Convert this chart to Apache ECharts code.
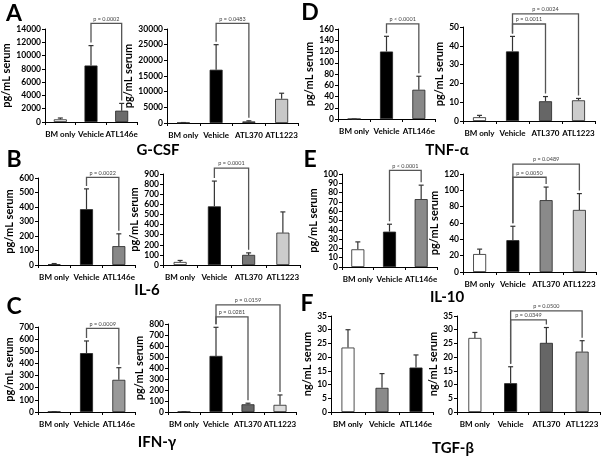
<!DOCTYPE html>
<html>
<head>
<meta charset="utf-8">
<script src="https://cdn.jsdelivr.net/npm/echarts@6/dist/echarts.min.js"></script>
<style>
html, body { margin: 0; padding: 0; background: #fff; }
#chart { width: 605px; height: 456px; }
</style>
</head>
<body>
<div id="chart"></div>
<script>
var cats3 = ['BM only', 'Vehicle', 'ATL146e'];
var cats4 = ['BM only', 'Vehicle', 'ATL370', 'ATL1223'];

// G-CSF (A)
var gcsfL = [400, 8500, 1700];
var gcsfLErr = [600, 11500, 2800];
var gcsfR = [100, 17000, 500, 7700];
var gcsfRErr = [150, 25000, 700, 9500];
// TNF-a (D)
var tnfL = [0, 120, 52];
var tnfLErr = [0, 147, 76];
var tnfR = [2, 37, 10.5, 11];
var tnfRErr = [3, 45, 13, 12];
// IL-6 (B)
var il6L = [5, 385, 130];
var il6LErr = [10, 525, 215];
var il6R = [30, 580, 100, 320];
var il6RErr = [45, 830, 120, 525];
// IL-10 (E)
var il10L = [19, 38, 73];
var il10LErr = [27, 46, 88];
var il10R = [22, 39, 88, 76];
var il10RErr = [28, 56, 104, 96];
// IFN-g (C)
var ifnL = [3, 485, 265];
var ifnLErr = [3, 585, 365];
var ifnR = [3, 510, 70, 65];
var ifnRErr = [3, 770, 80, 155];
// TGF-b (F)
var tgfL = [23.5, 8.8, 16.2];
var tgfLErr = [30, 14, 20.8];
var tgfR = [27, 10.5, 25.2, 22];
var tgfRErr = [29, 16.5, 30.8, 26];

// significance brackets: [from, to, height]
var gcsfLBr = [[1, 2, 14860]];  var gcsfLP = ['p = 0.0002'];
var gcsfRBr = [[1, 2, 31800]];  var gcsfRP = ['p = 0.0483'];
var tnfLBr = [[1, 2, 169]];     var tnfLP = ['p < 0.0001'];
var tnfRBr = [[1, 2, 51.6], [1, 3, 57]]; var tnfRP = ['p = 0.0011', 'p = 0.0024'];
var il6LBr = [[1, 2, 605]];     var il6LP = ['p = 0.0022'];
var il6RBr = [[1, 2, 959]];     var il6RP = ['p = 0.0001'];
var il10LBr = [[1, 2, 104]];    var il10LP = ['p < 0.0001'];
var il10RBr = [[1, 2, 116], [1, 3, 132]]; var il10RP = ['p = 0.0050', 'p = 0.0489'];
var ifnLBr = [[1, 2, 689]];     var ifnLP = ['p = 0.0009'];
var ifnRBr = [[1, 2, 864], [1, 3, 973]]; var ifnRP = ['p = 0.0281', 'p = 0.0159'];
var tgfLBr = [];                var tgfLP = [];
var tgfRBr = [[1, 2, 33.6], [1, 3, 36.9]]; var tgfRP = ['p = 0.0349', 'p = 0.0500'];

var panels = [
    { cats: cats3, vals: gcsfL, errs: gcsfLErr, br: gcsfLBr, p: gcsfLP, max: 14000, step: 2000, name: 'pg/mL serum',
      colors: ['#fff', '#000', '#6b6b6b'], rect: [45, 29, 92, 93], gap: 28 },
    { cats: cats4, vals: gcsfR, errs: gcsfRErr, br: gcsfRBr, p: gcsfRP, max: 30000, step: 5000, name: 'pg/mL serum',
      colors: ['#fff', '#000', '#555', '#c8c8c8'], rect: [167, 29, 131, 94], gap: 22 },
    { cats: cats3, vals: tnfL, errs: tnfLErr, br: tnfLBr, p: tnfLP, max: 160, step: 20, name: 'pg/mL serum',
      colors: ['#fff', '#000', '#888'], rect: [338, 29, 97, 90], gap: 19 },
    { cats: cats4, vals: tnfR, errs: tnfRErr, br: tnfRBr, p: tnfRP, max: 50, step: 10, name: 'pg/mL serum',
      colors: ['#fff', '#000', '#666', '#ccc'], rect: [463, 27, 132, 94], gap: 17 },
    { cats: cats3, vals: il6L, errs: il6LErr, br: il6LBr, p: il6LP, max: 600, step: 100, name: 'pg/mL serum',
      colors: ['#fff', '#000', '#888'], rect: [38, 178, 97, 87], gap: 18 },
    { cats: cats4, vals: il6R, errs: il6RErr, br: il6RBr, p: il6RP, max: 900, step: 100, name: 'pg/mL serum',
      colors: ['#fff', '#000', '#777', '#ccc'], rect: [163, 174, 137, 91], gap: 17 },
    { cats: cats3, vals: il10L, errs: il10LErr, br: il10LBr, p: il10LP, max: 100, step: 10, name: 'pg/mL serum',
      colors: ['#fff', '#000', '#8a8a8a'], rect: [342, 174, 95, 93], gap: 19 },
    { cats: cats4, vals: il10R, errs: il10RErr, br: il10RBr, p: il10RP, max: 120, step: 20, name: 'pg/mL serum',
      colors: ['#fff', '#000', '#8a8a8a', '#c8c8c8'], rect: [463, 174, 133, 98], gap: 15 },
    { cats: cats3, vals: ifnL, errs: ifnLErr, br: ifnLBr, p: ifnLP, max: 700, step: 100, name: 'pg/mL serum',
      colors: ['#fff', '#000', '#999'], rect: [38, 327, 97, 85], gap: 19 },
    { cats: cats4, vals: ifnR, errs: ifnRErr, br: ifnRBr, p: ifnRP, max: 800, step: 100, name: 'pg/mL serum',
      colors: ['#fff', '#000', '#666', '#ddd'], rect: [168, 324, 128, 88], gap: 16 },
    { cats: cats3, vals: tgfL, errs: tgfLErr, br: tgfLBr, p: tgfLP, max: 35, step: 5, name: 'ng/mL serum',
      colors: ['#fff', '#8a8a8a', '#000'], rect: [331, 316, 102, 96], gap: 13 },
    { cats: cats4, vals: tgfR, errs: tgfRErr, br: tgfRBr, p: tgfRP, max: 35, step: 5, name: 'ng/mL serum',
      colors: ['#fff', '#000', '#666', '#aaa'], rect: [457, 316, 143, 96], gap: 9 }
];

var FONT = 'Lato';

function errRender(params, api) {
    var x = api.value(0);
    var top = api.coord([x, api.value(2)]);
    var base = api.coord([x, api.value(1)]);
    var w = 2.5;
    return {
        type: 'group',
        children: [
            { type: 'line', shape: { x1: base[0], y1: base[1], x2: top[0], y2: top[1] }, style: { stroke: '#333', lineWidth: 1.2 } },
            { type: 'line', shape: { x1: top[0] - w, y1: top[1], x2: top[0] + w, y2: top[1] }, style: { stroke: '#333', lineWidth: 1.2 } }
        ]
    };
}

function makeBracket(errs, labels) {
    return function (params, api) {
        var a = api.value(0), b = api.value(1), h = api.value(2);
        var pa = api.coord([a, h]), pb = api.coord([b, h]);
        var ya = api.coord([a, errs[a]])[1] - 3;
        var yb = api.coord([b, errs[b]])[1] - 3;
        return {
            type: 'group',
            children: [
                { type: 'polyline', shape: { points: [[pa[0], ya], [pa[0], pa[1]], [pb[0], pb[1]], [pb[0], yb]] },
                  style: { stroke: '#555', lineWidth: 1.3, fill: null } },
                { type: 'text', style: { text: labels[params.dataIndex], x: (pa[0] + pb[0]) / 2, y: pa[1] - 1.5,
                  align: 'center', verticalAlign: 'bottom', fontSize: 5.5, fill: '#444', fontFamily: FONT } }
            ]
        };
    };
}

var grids = [], xAxes = [], yAxes = [], series = [];
panels.forEach(function (p, i) {
    grids.push({ left: p.rect[0], top: p.rect[1], width: p.rect[2], height: p.rect[3] });
    xAxes.push({
        type: 'category', gridIndex: i, data: p.cats,
        axisLine: { lineStyle: { color: '#000', width: 1 } },
        axisTick: { show: true, length: 3, lineStyle: { color: '#000' } },
        axisLabel: { interval: 0, fontSize: 8, fontWeight: 'bold', color: '#000', fontFamily: FONT, margin: 8 }
    });
    yAxes.push({
        type: 'value', gridIndex: i, min: 0, max: p.max, interval: p.step,
        name: p.name, nameLocation: 'middle', nameGap: p.gap,
        nameTextStyle: { fontSize: 11, fontWeight: 'bold', color: '#000', fontFamily: FONT },
        splitLine: { show: false },
        axisLine: { show: true, lineStyle: { color: '#000', width: 1 } },
        axisTick: { show: true, length: 3, lineStyle: { color: '#000' } },
        axisLabel: { fontSize: 8.5, fontWeight: 'bold', color: '#000', fontFamily: FONT, margin: 4,
                     formatter: function (v) { return String(v); } }
    });
    series.push({
        type: 'bar', xAxisIndex: i, yAxisIndex: i, barWidth: 13,
        data: p.vals.map(function (v, k) {
            return { value: v, itemStyle: { color: p.colors[k], borderColor: '#222', borderWidth: 0.8 } };
        })
    });
    series.push({
        type: 'custom', xAxisIndex: i, yAxisIndex: i, renderItem: errRender, z: 3,
        data: p.vals.map(function (v, k) { return [k, v, p.errs[k]]; })
    });
    if (p.br.length) {
        series.push({
            type: 'custom', xAxisIndex: i, yAxisIndex: i, renderItem: makeBracket(p.errs, p.p), z: 4,
            data: p.br
        });
    }
});

var titles = [
    ['A', 14, 14, 23], ['D', 310, 13, 23], ['B', 14, 160, 23], ['E', 310, 160, 23], ['C', 14, 307, 23], ['F', 307, 304, 23],
    ['G-CSF', 158, 150, 15], ['TNF-\u03b1', 447, 150, 15], ['IL-6', 147, 290, 15],
    ['IL-10', 447, 297, 15], ['IFN-\u03b3', 157, 442, 15], ['TGF-\u03b2', 453, 448, 15]
];

var chart = echarts.init(document.getElementById('chart'));
chart.setOption({
    animation: false,
    backgroundColor: '#fff',
    grid: grids,
    xAxis: xAxes,
    yAxis: yAxes,
    series: series,
    graphic: titles.map(function (t) {
        return {
            type: 'text', x: t[1], y: t[2],
            style: { text: t[0], fontSize: t[3], fontWeight: 'bold', fill: '#000', fontFamily: FONT,
                     align: 'center', verticalAlign: 'middle' }
        };
    })
});
</script>
</body>
</html>
